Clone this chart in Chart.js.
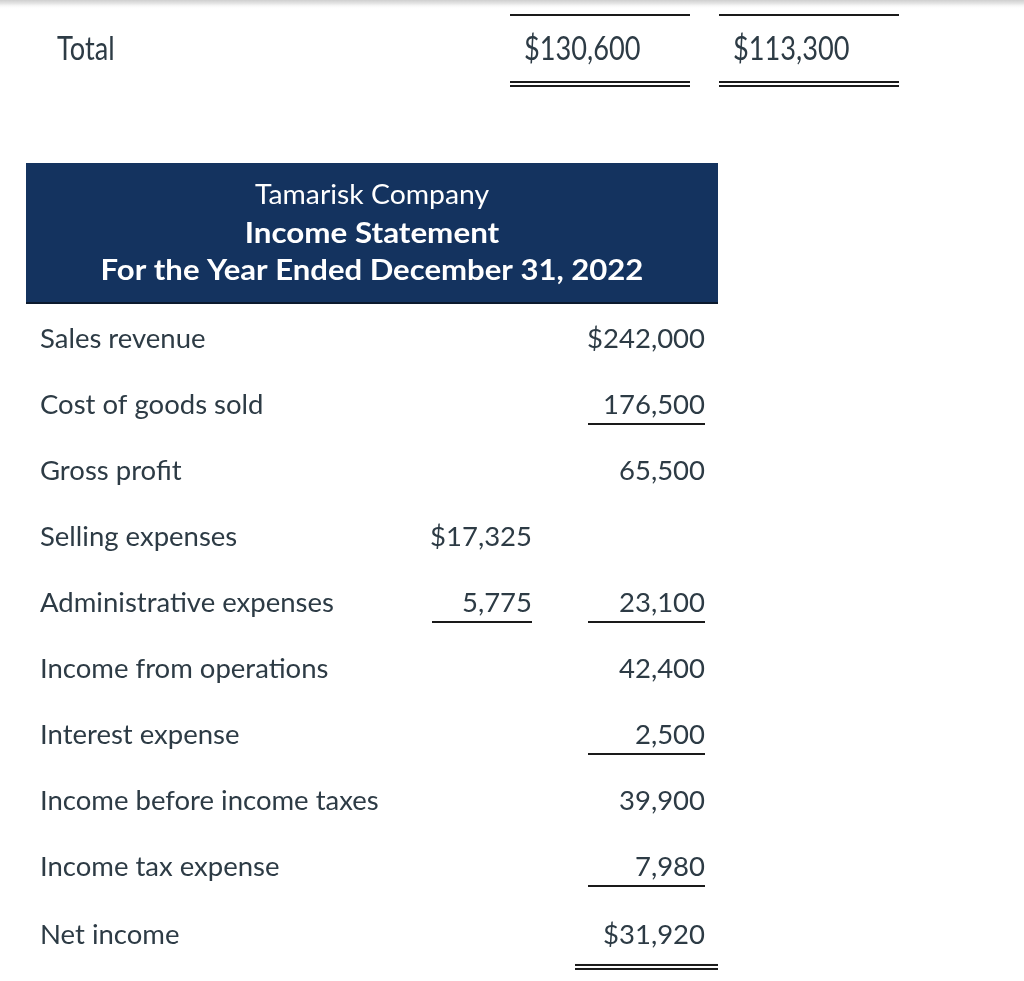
<!DOCTYPE html>
<html lang="en">
<head>
<meta charset="UTF-8">
<title>Tamarisk Company Income Statement</title>
<script src="https://cdn.jsdelivr.net/npm/chart.js"></script>
<style>
  html, body { margin: 0; padding: 0; background: #ffffff; }
  canvas { display: block; }
</style>
</head>
<body>
<canvas id="statement" width="1024" height="981"></canvas>
<script>
// ---- data ----
var rowLabels = ['Sales revenue', 'Cost of goods sold', 'Gross profit', 'Selling expenses',
  'Administrative expenses', 'Income from operations', 'Interest expense',
  'Income before income taxes', 'Income tax expense', 'Net income'];
var col1Values = [null, null, null, 17325, 5775, null, null, null, null, null];
var col2Values = [242000, 176500, 65500, null, 23100, 42400, 2500, 39900, 7980, 31920];
var col1Dollar = [false, false, false, true, false, false, false, false, false, false];
var col2Dollar = [true, false, false, false, false, false, false, false, false, true];
var col1Rules = ['', '', '', '', 'single', '', '', '', '', ''];
var col2Rules = ['', 'single', '', '', 'single', '', 'single', '', 'single', 'double'];
var titleLines = ['Tamarisk Company', 'Income Statement', 'For the Year Ended December 31, 2022'];
var totalLabel = 'Total';
var totalValues = [130600, 113300];

// ---- layout (pixels / row units) ----
var rowStep = 66, firstRowPx = 339, H = 981;
function rowAt(px) { return (px - firstRowPx) / rowStep; }
var colX = { label: 40, c1: 532, c2: 705, totalLabel: 57, t1: 524, t2: 733 };
var textColor = '#2d3b45';
var navy = '#14335f';
// title fonts: [font, horizontal stretch]
var titleFonts = [['400 26px Lato', 1.09], ['700 28px Lato', 1.12], ['700 28px Lato', 1.11]];

function fmt(v, dollar) {
  return (dollar ? '$' : '') + v.toLocaleString('en-US');
}

function pointsFor(values, x) {
  var pts = [];
  values.forEach(function (v, i) { if (v !== null) pts.push({ x: x, y: i, i: i }); });
  return pts;
}

var statementPlugin = {
  id: 'statement',
  beforeDatasetsDraw: function (chart) {
    var ctx = chart.ctx, xs = chart.scales.x, ys = chart.scales.y;
    ctx.save();
    // top shadow strip
    var g = ctx.createLinearGradient(0, 0, 0, 9);
    g.addColorStop(0, '#cfcfcf');
    g.addColorStop(0.4, '#e6e6e6');
    g.addColorStop(1, 'rgba(255,255,255,0)');
    ctx.fillStyle = g;
    ctx.fillRect(0, 0, 1024, 9);
    // header box
    var top = ys.getPixelForValue(rowAt(163)), bot = ys.getPixelForValue(rowAt(304));
    var left = xs.getPixelForValue(26), right = xs.getPixelForValue(718);
    ctx.fillStyle = navy;
    ctx.fillRect(left, top, right - left, bot - top);
    ctx.fillStyle = '#0c1a2e';
    ctx.fillRect(left, bot - 2, right - left, 2);
    ctx.restore();
  },
  afterDatasetsDraw: function (chart) {
    var ctx = chart.ctx, xs = chart.scales.x, ys = chart.scales.y;
    ctx.save();
    ctx.textBaseline = 'middle';

    // title lines
    var titleMeta = chart.getDatasetMeta(0);
    titleMeta.data.forEach(function (pt, i) {
      ctx.save();
      ctx.translate(pt.x, pt.y);
      ctx.scale(titleFonts[i][1], 1);
      ctx.fillStyle = '#ffffff';
      ctx.textAlign = 'center';
      ctx.font = titleFonts[i][0];
      ctx.fillText(titleLines[i], 0, 0);
      ctx.restore();
    });

    // row labels
    ctx.fillStyle = textColor;
    ctx.font = '400 27.5px Lato';
    ctx.textAlign = 'left';
    chart.getDatasetMeta(1).data.forEach(function (pt, i) {
      ctx.fillText(rowLabels[i], pt.x, pt.y);
    });

    // amount columns
    ctx.textAlign = 'right';
    var cols = [
      { meta: chart.getDatasetMeta(2), values: col1Values, dollar: col1Dollar, rules: col1Rules, w: 100 },
      { meta: chart.getDatasetMeta(3), values: col2Values, dollar: col2Dollar, rules: col2Rules, w: 117 }
    ];
    cols.forEach(function (c) {
      var raw = c.meta._dataset.data;
      c.meta.data.forEach(function (pt, k) {
        var i = raw[k].i;
        ctx.fillStyle = textColor;
        ctx.fillText(fmt(c.values[i], c.dollar[i]), pt.x, pt.y);
        ctx.fillStyle = '#1a1a1a';
        if (c.rules[i] === 'single') {
          ctx.fillRect(pt.x - c.w, pt.y + 18, c.w, 2);
        } else if (c.rules[i] === 'double') {
          ctx.fillRect(pt.x - c.w - 13, pt.y + 29, c.w + 26, 2);
          ctx.fillRect(pt.x - c.w - 13, pt.y + 33, c.w + 26, 2);
        }
      });
    });

    // Total row (condensed)
    var totMeta = chart.getDatasetMeta(4);
    totMeta.data.forEach(function (pt, k) {
      var txt = k === 0 ? totalLabel : fmt(totalValues[k - 1], true);
      ctx.save();
      ctx.translate(pt.x, pt.y);
      ctx.scale(0.85, 1);
      ctx.font = '400 32px Lato';
      ctx.textAlign = 'left';
      ctx.fillStyle = textColor;
      ctx.fillText(txt, 0, 0);
      ctx.restore();
      if (k > 0) {
        var x0 = pt.x - 14, w = 180;
        var yTop = ys.getPixelForValue(rowAt(15));
        var yB = ys.getPixelForValue(rowAt(82));
        ctx.fillStyle = '#1a1a1a';
        ctx.fillRect(x0, yTop - 1, w, 2);
        ctx.fillRect(x0, yB - 1, w, 2);
        ctx.fillRect(x0, yB + 3, w, 2);
      }
    });
    ctx.restore();
  }
};

var ctx = document.getElementById('statement').getContext('2d');
var yMin = rowAt(0), yMax = rowAt(H);

document.fonts.load('400 24px Lato').then(function () {
  return document.fonts.load('700 24px Lato');
}).catch(function () {}).then(function () {
  new Chart(ctx, {
    type: 'scatter',
    data: {
      datasets: [
        { label: 'title', data: titleLines.map(function (t, i) { return { x: 372, y: rowAt([196, 234, 271][i]) }; }) },
        { label: 'labels', data: rowLabels.map(function (t, i) { return { x: colX.label, y: i + (i === 9 ? 0.03 : 0) }; }) },
        { label: 'col1', data: pointsFor(col1Values, colX.c1) },
        { label: 'col2', data: pointsFor(col2Values, colX.c2).map(function (p) { if (p.i === 9) p.y += 0.03; return p; }) },
        { label: 'total', data: [
          { x: colX.totalLabel, y: rowAt(50) },
          { x: colX.t1, y: rowAt(50) },
          { x: colX.t2, y: rowAt(50) }
        ] }
      ]
    },
    options: {
      responsive: false,
      animation: false,
      events: [],
      layout: { padding: 0 },
      elements: { point: { radius: 0, hoverRadius: 0 } },
      plugins: { legend: { display: false }, tooltip: { enabled: false } },
      scales: {
        x: { type: 'linear', min: 0, max: 1024, display: false },
        y: { type: 'linear', min: yMin, max: yMax, reverse: true, display: false }
      }
    },
    plugins: [statementPlugin]
  });
});
</script>
</body>
</html>
